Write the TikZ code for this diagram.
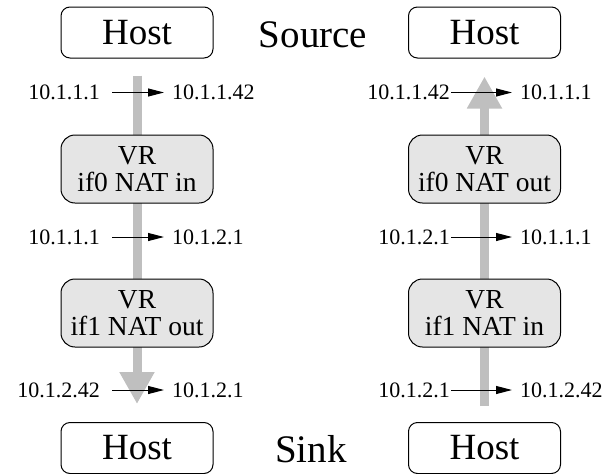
\documentclass[tikz,border=0pt]{standalone}
\usepackage{fontspec}
\setmainfont{Liberation Serif}
\usetikzlibrary{arrows.meta}
\tikzset{
  host/.style={draw, line width=1pt, rounded corners=9pt, fill=white,
    minimum width=152pt, minimum height=51pt, inner sep=0pt,
    font=\fontsize{37}{40}\selectfont},
  vr/.style={draw, line width=1pt, rounded corners=14pt, fill=black!10,
    minimum width=152pt, minimum height=68pt, inner sep=0pt, align=center,
    font=\fontsize{27.5}{27}\selectfont},
  role/.style={inner sep=0pt, anchor=base, font=\fontsize{39}{42}\selectfont},
  addr/.style={inner sep=0pt, font=\fontsize{22}{24}\selectfont},
  src/.style={addr, anchor=east},
  dst/.style={addr, anchor=west},
  map/.style={line width=1pt, -{Triangle[length=16pt,width=8pt]}, shorten >=8pt},
  mapL/.style={map, shorten <=12pt},
  mapR/.style={map, shorten <=1pt},
  flow/.style={line width=9pt, black!25, -{Triangle[length=32pt,width=33pt]}}
}
\begin{document}
\begin{tikzpicture}[x=1pt, y=-1pt]
\useasboundingbox (0,0) rectangle (608,474);

% hosts and virtual routers
\node[host] (hsrcL) at (137,32.5) {Host};
\node[host] (hsrcR) at (484.5,32.5) {Host};
\node[host] (hsnkL) at (137,448) {Host};
\node[host] (hsnkR) at (484.5,448) {Host};

% packet flows (behind the routers)
\draw[flow, shorten <=17pt, shorten >=18pt] (hsrcL.south) -- (hsnkL.north);
\draw[flow, shorten <=16pt, shorten >=18pt] (hsnkR.north) -- (hsrcR.south);

\node[vr] (vrL0) at (137,169) {VR\\if0 NAT in};
\node[vr] (vrL1) at (137,313) {VR\\if1 NAT out};
\node[vr] (vrR0) at (484.5,169) {VR\\if0 NAT out};
\node[vr] (vrR1) at (484.5,313) {VR\\if1 NAT in};

\node[role] (source) at (313,47) {Source};
\node[role] (sink) at (311,462) {Sink};

% address rewrites, left path
\node[src] (l1s) at (100,92.5) {10.1.1.1};
\node[dst] (l1d) at (172,92.5) {10.1.1.42};
\node[src] (l2s) at (100,237) {10.1.1.1};
\node[dst] (l2d) at (172,237) {10.1.2.1};
\node[src] (l3s) at (100,390) {10.1.2.42};
\node[dst] (l3d) at (172,390) {10.1.2.1};
\draw[mapL] (l1s) -- (l1d);
\draw[mapL] (l2s) -- (l2d);
\draw[mapL] (l3s) -- (l3d);

% address rewrites, right path
\node[src] (r1s) at (450,92.5) {10.1.1.42};
\node[dst] (r1d) at (520,92.5) {10.1.1.1};
\node[src] (r2s) at (450,237) {10.1.2.1};
\node[dst] (r2d) at (520,237) {10.1.1.1};
\node[src] (r3s) at (450,390) {10.1.2.1};
\node[dst] (r3d) at (520,390) {10.1.2.42};
\draw[mapR] (r1s) -- (r1d);
\draw[mapR] (r2s) -- (r2d);
\draw[mapR] (r3s) -- (r3d);
\end{tikzpicture}
\end{document}
